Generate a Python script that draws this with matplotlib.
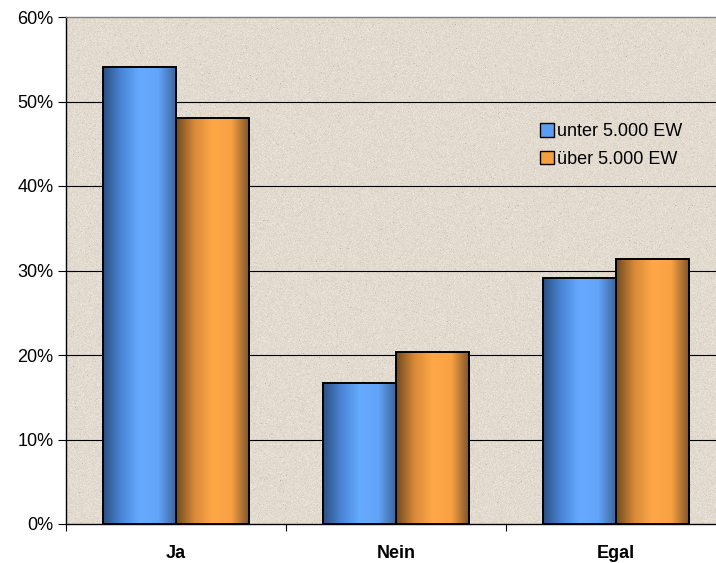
import numpy as np
import matplotlib
matplotlib.use("Agg")
import matplotlib.pyplot as plt
from matplotlib.patches import Rectangle
from matplotlib.colors import LinearSegmentedColormap
from matplotlib.ticker import FuncFormatter, MultipleLocator

plt.rcParams['font.family'] = ['Liberation Sans', 'DejaVu Sans']

categories = ["Ja", "Nein", "Egal"]
series_names = ["unter 5.000 EW", "über 5.000 EW"]
unter = [54.1, 16.7, 29.1]
ueber = [48.1, 20.3, 31.4]

fig = plt.figure(figsize=(7.16, 5.63), dpi=100)
ax = fig.add_axes([66/716, 39/563, 650/716, 507/563])

x = np.arange(len(categories))
width = 0.333
xmin, xmax = -0.5, -0.5 + 650/220

# paper-like background texture
rng = np.random.default_rng(7)
h, w = 507, 650
base = np.array([0.887, 0.858, 0.812])
noise = rng.normal(0, 0.02, (h, w))
spots = (rng.random((h, w)) < 0.005) * rng.uniform(-0.14, -0.04, (h, w))
tex = np.clip(base[None, None, :] + (noise + spots)[:, :, None], 0, 1)
ax.imshow(tex, extent=[xmin, xmax, 0, 60], aspect='auto', zorder=0, interpolation='bilinear')

for yv in range(10, 60, 10):
    ax.axhline(yv, color='black', lw=0.8, zorder=1)

blue_cm = LinearSegmentedColormap.from_list('b', ['#2C4E80', '#4A86D6', '#66AAFF', '#62A4F8', '#3A6296'])
orange_cm = LinearSegmentedColormap.from_list('o', ['#6E4A20', '#D88A38', '#FFA848', '#F8A244', '#7A5028'])
grad = np.linspace(0, 1, 256)[None, :]

def draw_bar(xc, val, cmap):
    x0 = xc - width / 2
    im = ax.imshow(grad, cmap=cmap, extent=[x0, x0 + width, 0, val], aspect='auto', zorder=2)
    r = Rectangle((x0, 0), width, val, facecolor='none', edgecolor='black', lw=1.4, zorder=3)
    ax.add_patch(r)
    im.set_clip_path(r)

for i in range(len(categories)):
    draw_bar(x[i] - width / 2, unter[i], blue_cm)
    draw_bar(x[i] + width / 2, ueber[i], orange_cm)

ax.yaxis.set_major_locator(MultipleLocator(10))
ax.yaxis.set_major_formatter(FuncFormatter(lambda v, p: f"{int(v)}%"))
ax.set_xticks([-0.5, 0.5, 1.5], minor=False)
ax.set_xticklabels([])
ax.set_xticks(x, minor=True)
ax.set_xticklabels(categories, minor=True, fontweight='bold', fontsize=13)
ax.tick_params(axis='x', which='minor', length=0, pad=15)
ax.tick_params(axis='x', which='major', length=5, width=0.8, direction='out')
ax.tick_params(axis='y', length=6, width=0.8, labelsize=13, pad=3)
ax.set_xlim(xmin, xmax)
ax.set_ylim(0, 60)

for s in ['left', 'bottom']:
    ax.spines[s].set_color('black')
    ax.spines[s].set_linewidth(1.0)
ax.spines['top'].set_color('#808080')
ax.spines['top'].set_linewidth(1.0)
ax.spines['right'].set_visible(False)

handles = [Rectangle((0, 0), 1, 1, facecolor='#5A9EF0', edgecolor='black', lw=1.0),
           Rectangle((0, 0), 1, 1, facecolor='#F5A040', edgecolor='black', lw=1.0)]
leg = ax.legend(handles, series_names, loc='upper left', bbox_to_anchor=(467/650, (507-99)/507),
                frameon=False, fontsize=13, handlelength=0.75, handleheight=0.75,
                handletextpad=0.2, labelspacing=0.6, borderaxespad=0)

fig.savefig("out.png", dpi=100)
